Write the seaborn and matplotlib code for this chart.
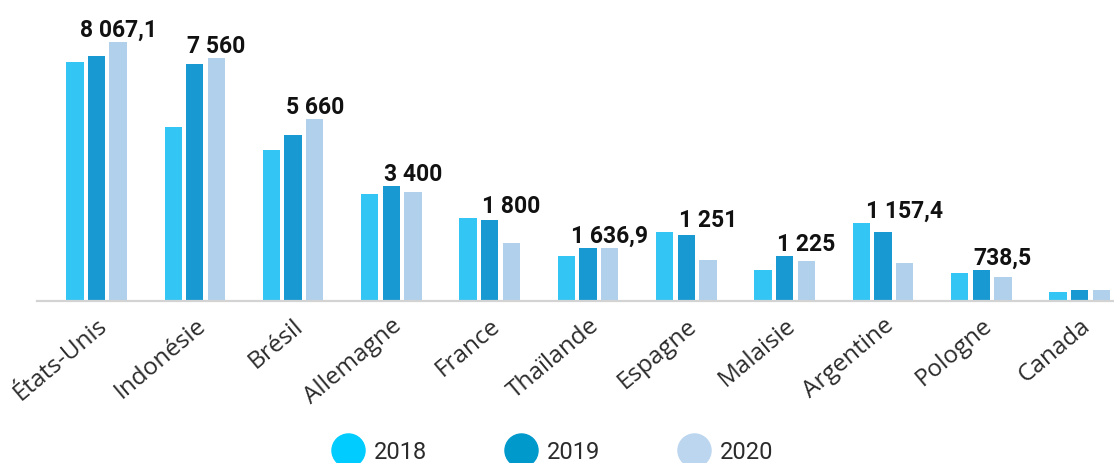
import matplotlib
matplotlib.use("Agg")
import matplotlib.pyplot as plt
from matplotlib.lines import Line2D
import seaborn as sns
import pandas as pd

pays = ['États-Unis', 'Indonésie', 'Brésil', 'Allemagne', 'France', 'Thaïlande',
        'Espagne', 'Malaisie', 'Argentine', 'Pologne', 'Canada']
annees = ['2018', '2019', '2020']
v2018 = [7450, 5410, 4690, 3335, 2585, 1386, 2126, 948, 2418, 855, 250]
v2019 = [7620, 7390, 5180, 3565, 2500, 1626, 2033, 1376, 2126, 948, 334]
v2020 = [8067.1, 7560, 5660, 3400, 1800, 1636.9, 1251, 1225, 1157.4, 738.5, 334]
etiquettes = ['8 067,1', '7 560', '5 660', '3 400', '1 800', '1 636,9',
              '1 251', '1 225', '1 157,4', '738,5', '']

couleurs_barres = ['#33C5F3', '#1899D1', '#B0D0EC']
couleurs_legende = ['#00CCFF', '#0099CC', '#BBD6EE']

sns.set_theme(style='white')
plt.rcParams['font.family'] = ['Roboto', 'DejaVu Sans']

df = pd.DataFrame({
    'pays': pays * 3,
    'annee': [a for a in annees for _ in pays],
    'valeur': v2018 + v2019 + v2020,
})

fig = plt.figure(figsize=(11.14, 4.64), dpi=100)
ax = fig.add_axes([37 / 1114, 162.5 / 464, 1 - 37 / 1114, 301.5 / 464])

sns.barplot(data=df, x='pays', y='valeur', hue='annee', palette=couleurs_barres,
            width=0.66, gap=0.2, saturation=1, legend=False, ax=ax,
            edgecolor='none', linewidth=0)

ax.set_xlim(-0.605, 10.35)
ax.set_ylim(0, 9410)
ax.set_xlabel('')
ax.set_ylabel('')
ax.set_yticks([])
for s in ['left', 'right', 'top']:
    ax.spines[s].set_visible(False)
ax.spines['bottom'].set_color('#D3D3D3')
ax.spines['bottom'].set_linewidth(1.6)

ax.tick_params(axis='x', length=0, pad=9)
ax.set_xticks(range(len(pays)))
ax.set_xticklabels(pays, rotation=40, ha='right', rotation_mode='anchor',
                   fontsize=17.5, color='#2b2b2b',
                   fontfamily=['Open Sans', 'DejaVu Sans'])

maxi = [max(a, b, c) for a, b, c in zip(v2018, v2019, v2020)]
for patch, txt, m in zip(ax.containers[2].patches, etiquettes, maxi):
    if not txt:
        continue
    xc = patch.get_x() + patch.get_width() / 2
    ax.annotate(txt, xy=(xc, m), xytext=(0, 6), textcoords='offset pixels',
                ha='center', va='baseline', fontsize=16.5, fontweight='bold',
                color='#111111', annotation_clip=False)

handles = [Line2D([], [], marker='o', linestyle='', markersize=23.8,
                  markerfacecolor=c, markeredgecolor=c) for c in couleurs_legende]
fig.legend(handles, annees, loc='center', bbox_to_anchor=(552.5 / 1114, 11 / 464),
           ncol=3, frameon=False, fontsize=17, handlelength=1.42,
           handletextpad=0.4, columnspacing=3.25, borderpad=0,
           labelcolor='#2b2b2b')

fig.savefig('out.png', dpi=100)
